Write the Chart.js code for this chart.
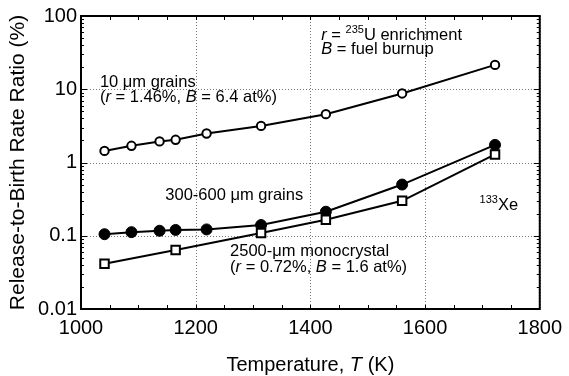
<!DOCTYPE html>
<html>
<head>
<meta charset="utf-8">
<script src="https://cdn.jsdelivr.net/npm/chart.js@4.4.1/dist/chart.umd.min.js"></script>
<style>
  html, body { margin: 0; padding: 0; background: #fff; }
  #box { width: 569px; height: 376px; }
</style>
</head>
<body>
<div id="box"><canvas id="myChart" width="569" height="376"></canvas></div>
<script>
// temperatures (K) and release-to-birth ratios (%)
const tempGrains = [1041, 1088, 1137, 1165, 1219, 1314, 1427, 1560, 1722];
const fineGrainVals = [1.44, 1.69, 1.94, 2.04, 2.49, 3.16, 4.57, 8.77, 21.5];
const coarseGrainVals = [0.105, 0.112, 0.117, 0.12, 0.122, 0.14, 0.213, 0.50, 1.74];
const tempCrystal = [1041, 1165, 1314, 1427, 1560, 1722];
const crystalVals = [0.0414, 0.064, 0.109, 0.165, 0.30, 1.29];

const xTickValues = [1000, 1200, 1400, 1600, 1800];
const xTickLabels = ['1000', '1200', '1400', '1600', '1800'];
const yTickValues = [0.01, 0.1, 1, 10, 100];
const yTickLabels = ['0.01', '0.1', '1', '10', '100'];

const FONT = '"Liberation Sans", Arial, Helvetica, sans-serif';

function pts(xs, ys) {
    return xs.map((x, i) => ({ x: x, y: ys[i] }));
}

// text with italic / superscript pieces
function drawRuns(ctx, x, y, runs, size) {
    runs.forEach(r => {
        const fs = r.sup ? Math.round(size * 0.68) : size;
        ctx.font = (r.it ? 'italic ' : '') + fs + 'px ' + FONT;
        ctx.fillText(r.t, x, r.sup ? y - size * 0.42 : y);
        x += ctx.measureText(r.t).width;
    });
}

const notes = [
    { x: 1033, y: 10.7, dy: 0, runs: [{ t: '10 \u03bcm grains' }] },
    { x: 1033, y: 10.7, dy: 14.5, runs: [{ t: '(' }, { t: 'r', it: true }, { t: ' = 1.46%, ' }, { t: 'B', it: true }, { t: ' = 6.4 at%)' }] },
    { x: 1419, y: 47.3, dy: 0, runs: [{ t: 'r', it: true }, { t: ' = ' }, { t: '235', sup: true }, { t: 'U enrichment' }] },
    { x: 1419, y: 47.3, dy: 14, runs: [{ t: 'B', it: true }, { t: ' = fuel burnup' }] },
    { x: 1147, y: 0.31, dy: 0, runs: [{ t: '300-600 \u03bcm grains' }] },
    { x: 1260, y: 0.0525, dy: 0, runs: [{ t: '2500-\u03bcm monocrystal' }] },
    { x: 1260, y: 0.0525, dy: 15.5, runs: [{ t: '(' }, { t: 'r', it: true }, { t: ' = 0.72%, ' }, { t: 'B', it: true }, { t: ' = 1.6 at%)' }] },
    { x: 1695, y: 0.223, dy: 0, runs: [{ t: '133', sup: true }, { t: 'Xe' }] }
];

const decorPlugin = {
    id: 'decor',
    beforeDatasetsDraw(chart) {
        const { ctx, chartArea: a, scales: { x, y } } = chart;
        ctx.save();
        ctx.strokeStyle = '#777';
        ctx.lineWidth = 1;
        ctx.setLineDash([1, 2]);
        xTickValues.forEach(v => {
            const px = Math.round(x.getPixelForValue(v)) + 0.5;
            ctx.beginPath(); ctx.moveTo(px, a.top); ctx.lineTo(px, a.bottom); ctx.stroke();
        });
        yTickValues.forEach(v => {
            const py = Math.round(y.getPixelForValue(v)) + 0.5;
            ctx.beginPath(); ctx.moveTo(a.left, py); ctx.lineTo(a.right, py); ctx.stroke();
        });
        ctx.restore();
    },
    afterDraw(chart) {
        const { ctx, chartArea: a, scales: { x, y } } = chart;
        ctx.save();
        ctx.strokeStyle = '#000';
        ctx.setLineDash([]);
        // minor ticks, pointing inward
        ctx.lineWidth = 1;
        ctx.beginPath();
        for (let t = 1050; t < 1800; t += 50) {
            const px = Math.round(x.getPixelForValue(t)) + 0.5;
            ctx.moveTo(px, a.bottom); ctx.lineTo(px, a.bottom - 4);
            ctx.moveTo(px, a.top); ctx.lineTo(px, a.top + 4);
        }
        for (let d = 0.01; d < 100; d *= 10) {
            for (let k = 1; k < 10; k++) {
                const py = Math.round(y.getPixelForValue(d * k)) + 0.5;
                const len = k === 1 ? 6 : 3;
                ctx.moveTo(a.left, py); ctx.lineTo(a.left + len, py);
                ctx.moveTo(a.right, py); ctx.lineTo(a.right - len, py);
            }
        }
        ctx.stroke();
        // frame
        ctx.lineWidth = 2;
        ctx.strokeRect(a.left, a.top, a.right - a.left, a.bottom - a.top);

        // annotations
        ctx.fillStyle = '#000';
        ctx.textBaseline = 'alphabetic';
        ctx.textAlign = 'left';
        notes.forEach(n => {
            drawRuns(ctx, x.getPixelForValue(n.x), y.getPixelForValue(n.y) + n.dy, n.runs, 16.5);
        });

        // x axis title
        const xRuns = [{ t: 'Temperature, ' }, { t: 'T', it: true }, { t: ' (K)' }];
        let w = 0;
        xRuns.forEach(r => {
            ctx.font = (r.it ? 'italic ' : '') + '20px ' + FONT;
            w += ctx.measureText(r.t).width;
        });
        drawRuns(ctx, (a.left + a.right) / 2 - w / 2, 371, xRuns, 20);

        // y axis title
        ctx.translate(24, (a.top + a.bottom) / 2);
        ctx.rotate(-Math.PI / 2);
        ctx.textAlign = 'center';
        ctx.font = '21px ' + FONT;
        ctx.fillText('Release-to-Birth Rate Ratio (%)', 0, 0);
        ctx.restore();
    }
};

const ctx = document.getElementById('myChart').getContext('2d');

const myChart = new Chart(ctx, {
    type: 'line',
    data: {
        datasets: [
            {
                label: '2500 um monocrystal',
                data: pts(tempCrystal, crystalVals),
                borderColor: '#000',
                borderWidth: 2,
                pointStyle: 'rect',
                pointRadius: 6,
                pointBorderWidth: 2,
                pointBackgroundColor: '#fff',
                pointBorderColor: '#000'
            },
            {
                label: '300-600 um grains',
                data: pts(tempGrains, coarseGrainVals),
                borderColor: '#000',
                borderWidth: 2,
                pointStyle: 'circle',
                pointRadius: 5.5,
                pointBorderWidth: 1,
                pointBackgroundColor: '#000',
                pointBorderColor: '#000'
            },
            {
                label: '10 um grains',
                data: pts(tempGrains, fineGrainVals),
                borderColor: '#000',
                borderWidth: 2,
                pointStyle: 'circle',
                pointRadius: 4.2,
                pointBorderWidth: 2,
                pointBackgroundColor: '#fff',
                pointBorderColor: '#000'
            }
        ]
    },
    options: {
        responsive: false,
        animation: false,
        devicePixelRatio: 1,
        layout: { padding: { top: 15, right: 23, left: 0, bottom: 0 } },
        plugins: {
            legend: { display: false },
            tooltip: { enabled: false }
        },
        scales: {
            x: {
                type: 'linear',
                min: 1000,
                max: 1800,
                afterBuildTicks: s => { s.ticks = xTickValues.map(v => ({ value: v })); },
                ticks: {
                    callback: (v) => xTickLabels[xTickValues.indexOf(v)],
                    color: '#000',
                    font: { size: 20, family: FONT },
                    padding: 7,
                    maxRotation: 0
                },
                grid: { display: false, drawTicks: false },
                border: { display: false },
                afterFit: s => { s.height = 67; }
            },
            y: {
                type: 'logarithmic',
                min: 0.01,
                max: 100,
                afterBuildTicks: s => { s.ticks = yTickValues.map(v => ({ value: v })); },
                ticks: {
                    callback: (v) => yTickLabels[yTickValues.indexOf(v)],
                    color: '#000',
                    font: { size: 20, family: FONT },
                    padding: 4
                },
                grid: { display: false, drawTicks: false },
                border: { display: false },
                afterFit: s => { s.width = 81; }
            }
        }
    },
    plugins: [decorPlugin]
});
</script>
</body>
</html>
